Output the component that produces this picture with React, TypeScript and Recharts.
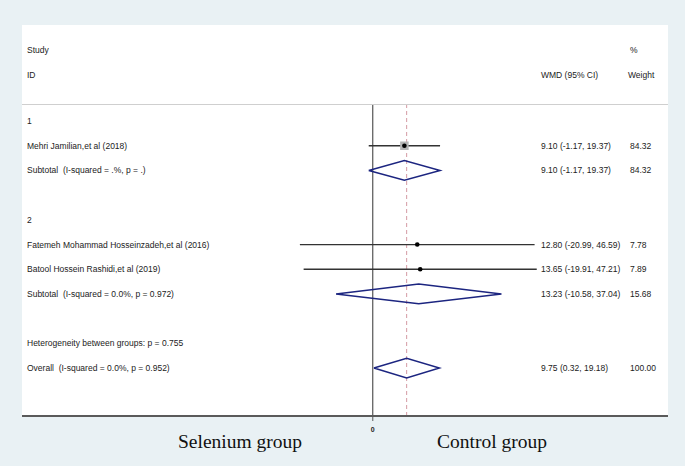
import React from "react";
import { ComposedChart, Scatter, XAxis, YAxis, ReferenceLine } from "recharts";

// forest plot: selenium vs control, WMD with 95% CI, subgroups 1 and 2

const rowLabels = [
  "1",
  "Subtotal\u00a0 (I-squared = .%, p = .)",
  "",
  "2",
  "",
  "",
  "Subtotal\u00a0 (I-squared = 0.0%, p = 0.972)",
  "",
  "Heterogeneity between groups: p = 0.755",
  "Overall\u00a0 (I-squared = 0.0%, p = 0.952)",
];
const labelRows = [1, 3, 4, 5, 6, 7, 8, 9, 10, 11];
const rowIdx = [1, 2, 3, 4, 5, 6, 7, 8, 9, 10, 11];

// individual studies
const studyNames = [
  "Mehri Jamilian,et al (2018)",
  "Fatemeh Mohammad Hosseinzadeh,et al (2016)",
  "Batool Hossein Rashidi,et al (2019)",
];
const studyRows = [2, 6, 7];
const studyEst = [9.1, 12.8, 13.65];
const studyLo = [-1.17, -20.99, -19.91];
const studyHi = [19.37, 46.59, 47.21];
const studyWeight = [84.32, 7.78, 7.89];

// pooled: subtotal 1, subtotal 2, overall
const poolRows = [3, 8, 11];
const poolEst = [9.1, 13.23, 9.75];
const poolLo = [-1.17, -10.58, 0.32];
const poolHi = [19.37, 37.04, 19.18];
const poolWeight = [84.32, 15.68, 100.0];

const xDomain = [-101, 85];
const yDomain = [0.35, 12.94];
const xTicks = [0];

const W = 685;
const H = 466;
const TXT = "#222";
const FONT = "'Liberation Sans', Arial, sans-serif";
const FS = 8.5;

const fmt = (e: number, l: number, h: number) => `${e.toFixed(2)} (${l.toFixed(2)}, ${h.toFixed(2)})`;

function rowText(idx: number): [string, string, string] {
  const s = studyRows.indexOf(idx);
  if (s >= 0) return [studyNames[s], fmt(studyEst[s], studyLo[s], studyHi[s]), studyWeight[s].toFixed(2)];
  const label = rowLabels[labelRows.indexOf(idx)] ?? "";
  const p = poolRows.indexOf(idx);
  if (p >= 0) return [label, fmt(poolEst[p], poolLo[p], poolHi[p]), poolWeight[p].toFixed(2)];
  return [label, "", ""];
}

function RowTick(props: any) {
  const { y, payload } = props;
  const [label, ci, w] = rowText(payload.value as number);
  return (
    <g fontFamily={FONT} fontSize={FS} fill={TXT}>
      <text x={27} y={y} dy="0.35em" textAnchor="start">{label}</text>
      <text x={541} y={y} dy="0.35em" textAnchor="start">{ci}</text>
      <text x={630} y={y} dy="0.35em" textAnchor="start">{w}</text>
    </g>
  );
}

function StudyMark(props: any) {
  const { cx, cy, payload } = props;
  const side = 8.5 * Math.sqrt(payload.w / 84.32);
  return (
    <g>
      <rect x={cx - side / 2} y={cy - side / 2} width={side} height={side} fill="#b4b4b4" />
      <circle cx={cx} cy={cy} r={2.3} fill="#000" />
    </g>
  );
}

const Empty = () => <g />;

export default function App() {
  const studyPts = studyRows.map((r, i) => ({ x: studyEst[i], y: r, w: studyWeight[i] }));
  const ciLines = studyRows.map((r, i) => [
    { x: studyLo[i], y: r },
    { x: studyHi[i], y: r },
  ]);
  const dh = 0.4;
  const diamonds = poolRows.map((r, i) => [
    { x: poolLo[i], y: r },
    { x: poolEst[i], y: r - dh },
    { x: poolHi[i], y: r },
    { x: poolEst[i], y: r + dh },
    { x: poolLo[i], y: r },
  ]);
  const overall = poolEst[poolEst.length - 1];

  return (
    <div style={{ position: "absolute", left: 0, top: 0, width: W, height: H, background: "#e9f1f4", overflow: "hidden" }}>
      <div style={{ position: "absolute", left: 22, top: 25, width: 646, height: 391, background: "#fff" }} />
      <div style={{ position: "absolute", left: 22, top: 104, width: 646, height: 1, background: "#cfcfcf" }} />
      <svg width={W} height={H} style={{ position: "absolute", left: 0, top: 0 }}>
        <g fontFamily={FONT} fontSize={FS} fill={TXT}>
          <text x={27} y={50} dy="0.35em">Study</text>
          <text x={27} y={75} dy="0.35em">ID</text>
          <text x={541} y={75} dy="0.35em">WMD (95% CI)</text>
          <text x={630} y={50} dy="0.35em">%</text>
          <text x={628} y={75} dy="0.35em">Weight</text>
        </g>
        <g fontFamily="'Liberation Serif', 'Times New Roman', serif" fontSize={19.5} fill="#111" textAnchor="middle">
          <text x={240} y={448}>Selenium group</text>
          <text x={492} y={448}>Control group</text>
        </g>
      </svg>
      <div style={{ position: "absolute", left: 0, top: 0 }}>
        <ComposedChart width={W} height={H} margin={{ top: 105, right: 17, bottom: 0, left: 21 }}>
          <XAxis
            type="number"
            dataKey="x"
            domain={xDomain}
            ticks={xTicks}
            allowDataOverflow
            axisLine={{ stroke: "#5a5a5a", strokeWidth: 2 }}
            tickLine={{ stroke: "#5a5a5a" }}
            tickSize={5}
            tick={{ fontSize: 7, fill: "#222", fontFamily: FONT, fontWeight: 700, dy: 4 }}
            height={50}
          />
          <YAxis
            type="number"
            dataKey="y"
            domain={yDomain}
            reversed
            ticks={rowIdx}
            interval={0}
            allowDataOverflow
            axisLine={false}
            tickLine={false}
            width={1}
            tick={(p: any) => <RowTick {...p} />}
          />
          <ReferenceLine x={0} stroke="#333" strokeWidth={1} />
          <ReferenceLine x={overall} stroke="#d49aa3" strokeWidth={1} strokeDasharray="4 3" />
          {ciLines.map((d, i) => (
            <Scatter key={"ci" + i} data={d} line={{ stroke: "#333", strokeWidth: 1.3 }} shape={<Empty />} isAnimationActive={false} />
          ))}
          {diamonds.map((d, i) => (
            <Scatter key={"dm" + i} data={d} line={{ stroke: "#1c2580", strokeWidth: 1.5 }} shape={<Empty />} isAnimationActive={false} />
          ))}
          <Scatter data={studyPts} shape={<StudyMark />} isAnimationActive={false} />
        </ComposedChart>
      </div>
    </div>
  );
}
